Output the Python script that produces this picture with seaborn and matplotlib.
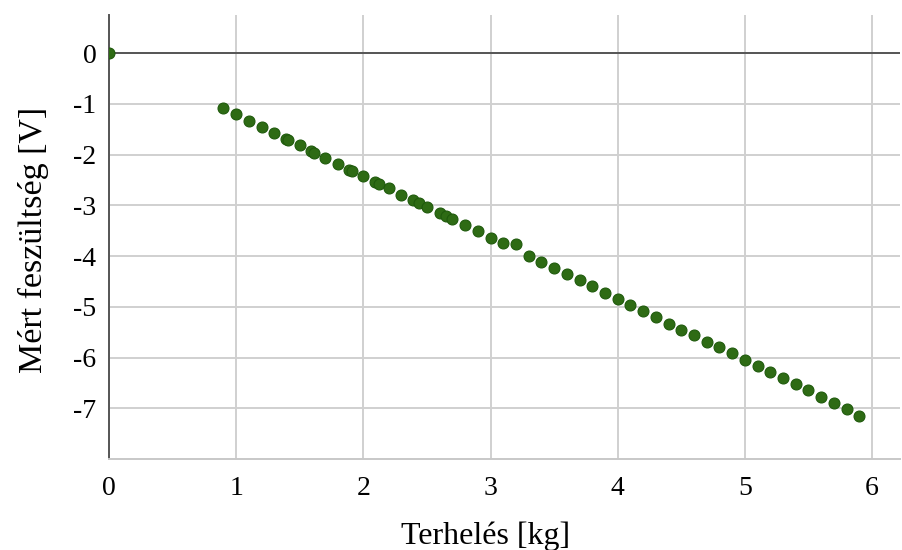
import matplotlib
matplotlib.use("Agg")
import matplotlib.pyplot as plt
import seaborn as sns
import pandas as pd

# Data
terheles_kg = [0.0, 0.9, 1.0, 1.1, 1.2, 1.3, 1.39, 1.41, 1.5, 1.59, 1.61, 1.7, 1.8,
               1.89, 1.91, 2.0, 2.09, 2.12, 2.2, 2.3, 2.39, 2.44, 2.5, 2.6, 2.65,
               2.7, 2.8, 2.9, 3.0, 3.1, 3.2, 3.3, 3.4, 3.5, 3.6, 3.7, 3.8, 3.9,
               4.0, 4.1, 4.2, 4.3, 4.4, 4.5, 4.6, 4.7, 4.8, 4.9, 5.0, 5.1, 5.2,
               5.3, 5.4, 5.5, 5.6, 5.7, 5.8, 5.9]
feszultseg_v = [0.0, -1.09, -1.21, -1.34, -1.45, -1.57, -1.69, -1.72, -1.81, -1.94,
                -1.97, -2.06, -2.18, -2.30, -2.33, -2.43, -2.55, -2.59, -2.66, -2.79,
                -2.90, -2.96, -3.03, -3.15, -3.21, -3.27, -3.39, -3.51, -3.64, -3.75,
                -3.77, -4.00, -4.11, -4.23, -4.36, -4.48, -4.60, -4.72, -4.84, -4.96,
                -5.08, -5.20, -5.33, -5.45, -5.56, -5.69, -5.80, -5.92, -6.05, -6.17,
                -6.29, -6.41, -6.53, -6.65, -6.78, -6.90, -7.02, -7.15]
x_ticks = [0, 1, 2, 3, 4, 5, 6]
y_ticks = [0, -1, -2, -3, -4, -5, -6, -7]
x_label = "Terhelés [kg]"
y_label = "Mért feszültség [V]"

df = pd.DataFrame({"x": terheles_kg, "y": feszultseg_v})

sns.set_style("white")
plt.rcParams["font.family"] = ["Liberation Serif", "DejaVu Serif"]

fig = plt.figure(figsize=(9.02, 5.5), dpi=100)
ax = fig.add_axes([109 / 902, 1 - 459 / 550, (900 - 109) / 902, (459 - 15) / 550])

ax.set_xlim(0, 6.22)
ax.set_ylim(-8, 0.75)
ax.set_xticks(x_ticks)
ax.set_yticks(y_ticks)
ax.set_xticklabels([str(t) for t in x_ticks])
ax.set_yticklabels([str(t) for t in y_ticks])

ax.grid(True, color="#d0d0d0", linewidth=1.4)
ax.set_axisbelow(True)
ax.axhline(0, color="#555555", linewidth=1.4, zorder=1.5)

for s in ["top", "right"]:
    ax.spines[s].set_visible(False)
ax.spines["left"].set_color("#555555")
ax.spines["left"].set_linewidth(1.4)
ax.spines["bottom"].set_color("#c8c8c8")
ax.spines["bottom"].set_linewidth(1.4)

sns.scatterplot(data=df, x="x", y="y", ax=ax, color="#2e6b14", edgecolor="#1f5a0c",
                linewidth=0.8, s=62, zorder=3, legend=False)

ax.tick_params(axis="both", length=0, labelsize=20, labelcolor="black")
ax.tick_params(axis="y", pad=9)
ax.tick_params(axis="x", pad=12)
ax.set_xlabel(x_label, fontsize=23, color="black")
ax.set_ylabel(y_label, fontsize=24.5, color="black")
ax.xaxis.set_label_coords((486 - 109) / 791, -0.14)
ax.yaxis.set_label_coords((49 - 109) / 791, 0.493)

fig.savefig("out.png", dpi=100)
